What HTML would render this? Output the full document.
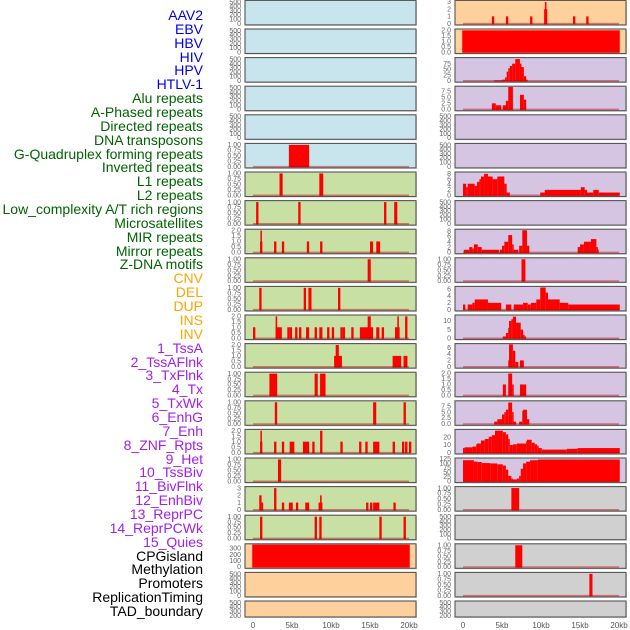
<!DOCTYPE html>
<html><head><meta charset="utf-8">
<style>
body{margin:0;width:630px;height:630px;background:#fff;overflow:hidden;font-family:"Liberation Sans",sans-serif}
#lbls div{position:absolute;right:427px;font-size:14px;line-height:14px;white-space:nowrap}
</style></head><body>
<div id="lbls"></div>
<svg id="chart" width="630" height="630" style="position:absolute;left:0;top:0"></svg>
<script>
const labels=["AAV2","EBV","HBV","HIV","HPV","HTLV-1","Alu repeats","A-Phased repeats","Directed repeats","DNA transposons","G-Quadruplex forming repeats","Inverted repeats","L1 repeats","L2 repeats","Low_complexity A/T rich regions","Microsatellites","MIR repeats","Mirror repeats","Z-DNA motifs","CNV","DEL","DUP","INS","INV","1_TssA","2_TssAFlnk","3_TxFlnk","4_Tx","5_TxWk","6_EnhG","7_Enh","8_ZNF_Rpts","9_Het","10_TssBiv","11_BivFlnk","12_EnhBiv","13_ReprPC","14_ReprPCWk","15_Quies","CPGisland","Methylation","Promoters","ReplicationTiming","TAD_boundary"];
const labelGroups=[6,13,5,15,5];
const groupColors=["#0000ee","#006400","#ffa500","#a020f0","#000000"];
const xTicks=[0,5,10,15,20];
const xTickLabels=["0","5kb","10kb","15kb","20kb"];
const T01=[[0,0.25,0.5,0.75,1],["0.00","0.25","0.50","0.75","1.00"],1.03];
const T2=[[0,0.5,1,1.5,2],["0.0","0.5","1.0","1.5","2.0"],2.05];
const TE=[[0,100,200,300,400,500],["0","100","200","300","400","500"],520];
const T3=[[0,1,2,3],["0","1","2","3"],3.1];
// left column bars [startKb,endKb,value]
const leftBars=[[],[],[],[],[],
[[4.6,7.2,1]],
[[3.4,3.8,1],[8.5,9.0,1]],
[[0.4,0.7,1],[5.8,6.1,1],[16.8,17.1,1],[18.1,18.5,1]],
[[0.9,1.2,1],[0.95,1.1,2],[2.7,3.0,1],[3.7,4.0,1],[6.9,7.2,1],[8.6,8.9,1],[15.0,15.4,1],[15.8,16.3,1]],
[[14.7,15.1,1]],
[[0.8,1.1,1],[6.5,6.8,1],[7.1,7.5,1],[10.9,11.2,1]],
[[0,0.3,1],[2.9,3.7,1],[2.9,3.1,2],[4.4,4.7,1],[4.7,5.0,1],[5.4,5.7,1],[5.9,6.2,1],[6.8,7.2,1],[7.9,8.2,1],[8.5,8.9,1],[9.5,9.8,1],[10.1,10.4,1],[11.2,11.5,1],[11.5,11.8,1],[12.6,12.9,1],[13.7,15.4,1],[14.7,15.1,2],[15.8,16.2,1],[16.5,16.8,1],[18.2,18.8,1],[18.5,18.7,2],[19.5,19.8,2]],
[[10.4,11.4,1],[10.6,11.0,2],[17.9,19.0,1],[19.3,19.8,1]],
[[2.1,3.1,1],[7.9,8.3,1],[8.6,9.3,1]],
[[2.8,3.1,1],[15.4,15.8,1],[19.3,19.6,1]],
[[0.9,1.2,1],[0.95,1.1,2],[2.7,3.0,1],[3.7,4.0,1],[4.7,5.3,1],[6.4,7.2,1],[7.6,7.9,1],[8.6,8.9,2],[11.2,11.5,1],[13.6,13.9,1],[14.4,14.7,1],[15.4,16.2,1],[17.9,18.2,1],[19.1,19.4,1],[19.5,19.8,1],[20.0,20.3,1]],
[[3.2,3.6,1]],
[[0.8,1.1,2],[1.1,1.3,1],[2.7,3.0,3],[3.7,4.0,1],[4.6,5.1,1],[5.5,5.8,1],[6.7,7.2,1],[8.4,8.9,1],[8.6,8.8,2],[14.5,14.8,1],[15.0,15.3,1],[15.4,16.2,1],[18.0,18.3,1]],
[[0.9,1.2,1],[7.9,8.2,1],[8.5,8.8,1],[16.2,16.5,1],[19.3,19.6,1]],
[[-0.1,20.1,360]],[],[]];
const leftTicks=[TE,TE,TE,TE,TE,T01,T01,T01,T2,T01,T01,T2,T2,T01,T01,T2,T01,T3,T01,[[0,100,200,300],["0","100","200","300"],360],TE,TE];
const leftBg=["#c8e4ec","#c8e4ec","#c8e4ec","#c8e4ec","#c8e4ec","#c8e4ec","#c8e0a4","#c8e0a4","#c8e0a4","#c8e0a4","#c8e0a4","#c8e0a4","#c8e0a4","#c8e0a4","#c8e0a4","#c8e0a4","#c8e0a4","#c8e0a4","#c8e0a4","#fdd09c","#fdd09c","#fdd09c"];
// right column
const rightBars=[
[[3.7,4.0,1],[5.5,5.8,1],[8.6,8.9,1],[10.5,10.7,3],[10.4,10.8,2],[14.1,14.4,1],[15.8,16.1,1]],
[[-0.1,20.1,2]],
[[4.0,5.0,2],[5.0,5.4,5],[5.4,5.6,15],[5.6,5.8,40],[5.8,6.0,55],[6.0,6.3,65],[6.3,6.7,75],[6.7,7.3,95],[7.3,7.4,75],[7.4,7.8,60],[7.8,8.1,20],[8.1,8.2,5]],
[[3.7,4.2,2.5],[4.2,4.9,1.7],[5.1,5.6,1.7],[5.5,5.8,3.5],[5.8,6.4,9.2],[7.3,7.8,6],[7.8,8.1,4]],
[],[],
[[0,0.4,4.3],[0.4,0.6,3],[0.6,1.5,4.3],[1.5,1.8,3.5],[1.8,2.1,5],[2.1,2.3,6],[2.3,2.7,7],[2.7,3.2,8],[3.2,3.8,7],[3.8,4.4,6],[4.4,5.3,7],[5.3,5.6,4.3],[5.6,6.0,1],[9.9,10.5,1],[10.5,15.1,2],[15.1,15.6,3],[15.6,15.9,2],[15.9,16.7,1],[16.7,17.4,2],[17.4,20.1,1]],
[],
[[0.1,0.8,1],[0.8,1.2,2],[1.2,1.4,1.5],[1.4,1.9,3],[1.9,2.4,2],[2.4,4.6,1],[4.7,5.0,1],[5.0,5.3,2.5],[5.3,5.8,4],[5.8,6.3,6.5],[6.3,6.5,3],[6.5,7.1,1],[7.2,7.6,2.5],[7.6,8.2,8.3],[8.2,8.5,2.5],[14.7,15.0,2],[15.0,15.5,3],[15.5,16.4,4],[16.4,17.1,5],[17.1,17.2,2],[17.2,17.4,1]],
[[7.5,8.0,1]],
[[0,0.3,1.5],[0.6,1.2,1.5],[1.2,1.5,2],[1.5,3.2,3],[3.2,4.9,2],[5.5,6.2,1.5],[6.5,7.7,1.5],[7.7,8.3,2],[8.3,8.7,1.5],[8.7,9.4,2],[9.4,9.9,3],[9.9,10.6,6.5],[10.6,10.9,5],[10.9,12.4,3],[12.4,13.5,2],[13.5,20.1,1.5]],
[[5.1,5.5,1],[5.5,5.8,3],[5.8,5.9,6],[5.9,6.2,10],[6.2,6.4,11],[6.4,6.8,12.5],[6.8,7.4,9],[7.4,7.7,5],[7.7,7.9,2],[7.9,8.1,1]],
[[5.8,5.9,2],[5.9,6.4,7],[6.4,6.7,5],[6.7,7.1,1.5],[7.3,7.8,2]],
[[5.1,5.5,1],[5.8,6.3,2],[6.3,6.5,1],[7.3,8.1,1]],
[[4.0,4.4,1],[4.4,5.0,2],[5.0,5.3,4],[5.3,5.5,5],[5.5,5.8,6],[5.8,6.3,9],[6.3,6.4,5],[6.4,6.8,1],[7.2,7.6,1],[7.6,7.7,5.5],[7.7,8.2,6],[8.2,8.5,2]],
[[0,0.2,6],[0.2,1.2,7],[1.2,1.7,8],[1.7,1.8,11],[1.8,2.3,12],[2.3,2.8,16],[2.8,3.3,18],[3.3,3.7,21],[3.7,4.1,23],[4.1,5.1,29],[5.1,5.5,27],[5.5,5.8,24],[5.8,6.0,18],[6.0,6.4,10],[6.4,6.9,11],[6.9,8.1,12],[8.1,8.2,15],[8.2,8.8,17],[8.8,9.2,13],[9.2,9.5,11],[9.5,9.6,9],[9.6,10.1,6],[10.1,13.3,4],[13.3,14.7,5],[14.7,20.1,6]],
[[0,1.4,118],[1.4,1.9,110],[1.9,2.4,108],[2.4,3.5,102],[3.5,4.4,100],[4.4,5.1,95],[5.1,5.5,88],[5.5,5.8,65],[5.8,6.2,30],[6.2,6.3,15],[6.3,6.9,10],[6.9,7.2,15],[7.2,7.4,30],[7.4,7.7,70],[7.7,8.1,100],[8.1,8.6,110],[8.6,9.6,118],[9.6,20.1,122]],
[[6.2,7.2,1]],
[],
[[6.7,7.6,1]],
[[16.2,16.6,1]],
[]];
const rightTicks=[T3,T2,[[0,25,50,75],["0","25","50","75"],98],[[0,2.5,5,7.5],["0.0","2.5","5.0","7.5"],9.2],TE,TE,
[[0,2,4,6,8],["0","2","4","6","8"],8.4],TE,[[0,2,4,6,8],["0","2","4","6","8"],8.4],T01,
[[0,2,4,6],["0","2","4","6"],6.6],[[0,5,10],["0","5","10"],13],[[0,2,4,6],["0","2","4","6"],7],T2,
[[0,2.5,5,7.5],["0.0","2.5","5.0","7.5"],9.4],[[0,10,20],["0","10","20"],29.6],
[[0,25,50,75,100,125],["0","25","50","75","100","125"],126],T01,TE,T01,T01,TE];
const rightBg=["#fdd09c","#fdd09c","#d5c5e2","#d5c5e2","#d5c5e2","#d5c5e2","#d5c5e2","#d5c5e2","#d5c5e2","#d5c5e2","#d5c5e2","#d5c5e2","#d5c5e2","#d5c5e2","#d5c5e2","#d5c5e2","#d5c5e2","#d0d0d0","#d0d0d0","#d0d0d0","#d0d0d0","#d0d0d0"];

const NS="http://www.w3.org/2000/svg";
const svg=document.getElementById('chart');
function mk(tag,attrs,parent){const e=document.createElementNS(NS,tag);for(const k in attrs)e.setAttribute(k,attrs[k]);(parent||svg).appendChild(e);return e;}

// labels
const lbl=document.getElementById('lbls');
let gi=0,cnt=0;
labels.forEach((t,i)=>{
  while(cnt>=labelGroups[gi]){gi++;cnt=0;}
  cnt++;
  const d=document.createElement('div');
  d.textContent=t;
  d.style.top=(8+i*13.86)+'px';
  d.style.color=groupColors[gi];
  
  
  lbl.appendChild(d);
});

const cols=[{px:245,bars:leftBars,ticks:leftTicks,bg:leftBg,x0:253,name:'left'},{px:455,bars:rightBars,ticks:rightTicks,bg:rightBg,x0:463,name:'right'}];
const PW=171,KB=7.8;
cols.forEach(c=>{
  const xs=kb=>c.x0+kb*KB;
  for(let i=0;i<22;i++){
    const top=0.4+i*28.6;
    const H=i===21?16:24.5;
    const g=mk('g',{});
    
    
    mk('rect',{x:c.px+1,y:top+1,width:PW,height:H,fill:'#aaa',opacity:0.5},g);
    mk('rect',{x:c.px,y:top,width:PW,height:H,fill:c.bg[i],stroke:'#555','stroke-width':1.1},g);
    const [tv,tl,ymax]=c.ticks[i];
    const pH=i===21?24.5:H;
    const y0=top+pH-1.3, yt=top+0.8;
    const ys=v=>y0-(v/ymax)*(y0-yt);
    tv.forEach((v,k)=>{
      const yy=ys(v);
      if(yy>top+H+1)return;
      const t=mk('text',{x:c.px-4,y:yy+2.2,'font-size':7,'text-anchor':'end',fill:'#666'},g);
      t.textContent=tl[k];
      
      
    });
    const bars=c.bars[i];
    bars.forEach(b=>{
      const x1=Math.max(xs(b[0]),c.px+0.5),x2=Math.min(xs(b[1]),c.px+PW-0.5);
      const r=mk('rect',{x:x1,y:ys(b[2]),width:Math.max(x2-x1,1.5),height:y0-ys(b[2])+0.6,fill:'#ff0000'},g);
      
      
    });
    if(bars.length && !(c.name==='left'&&i===19) && !(c.name==='right'&&i===1)){
      mk('line',{x1:xs(0),x2:xs(20),y1:y0,y2:y0,stroke:'rgba(190,0,0,0.45)','stroke-width':1.5},g);
    }
  }
  xTicks.forEach((v,k)=>{
    const t=mk('text',{x:xs(v),y:628,'font-size':8,'text-anchor':'middle',fill:'#555'});
    t.textContent=xTickLabels[k];
    
    
  });
});
</script>
</body></html>
